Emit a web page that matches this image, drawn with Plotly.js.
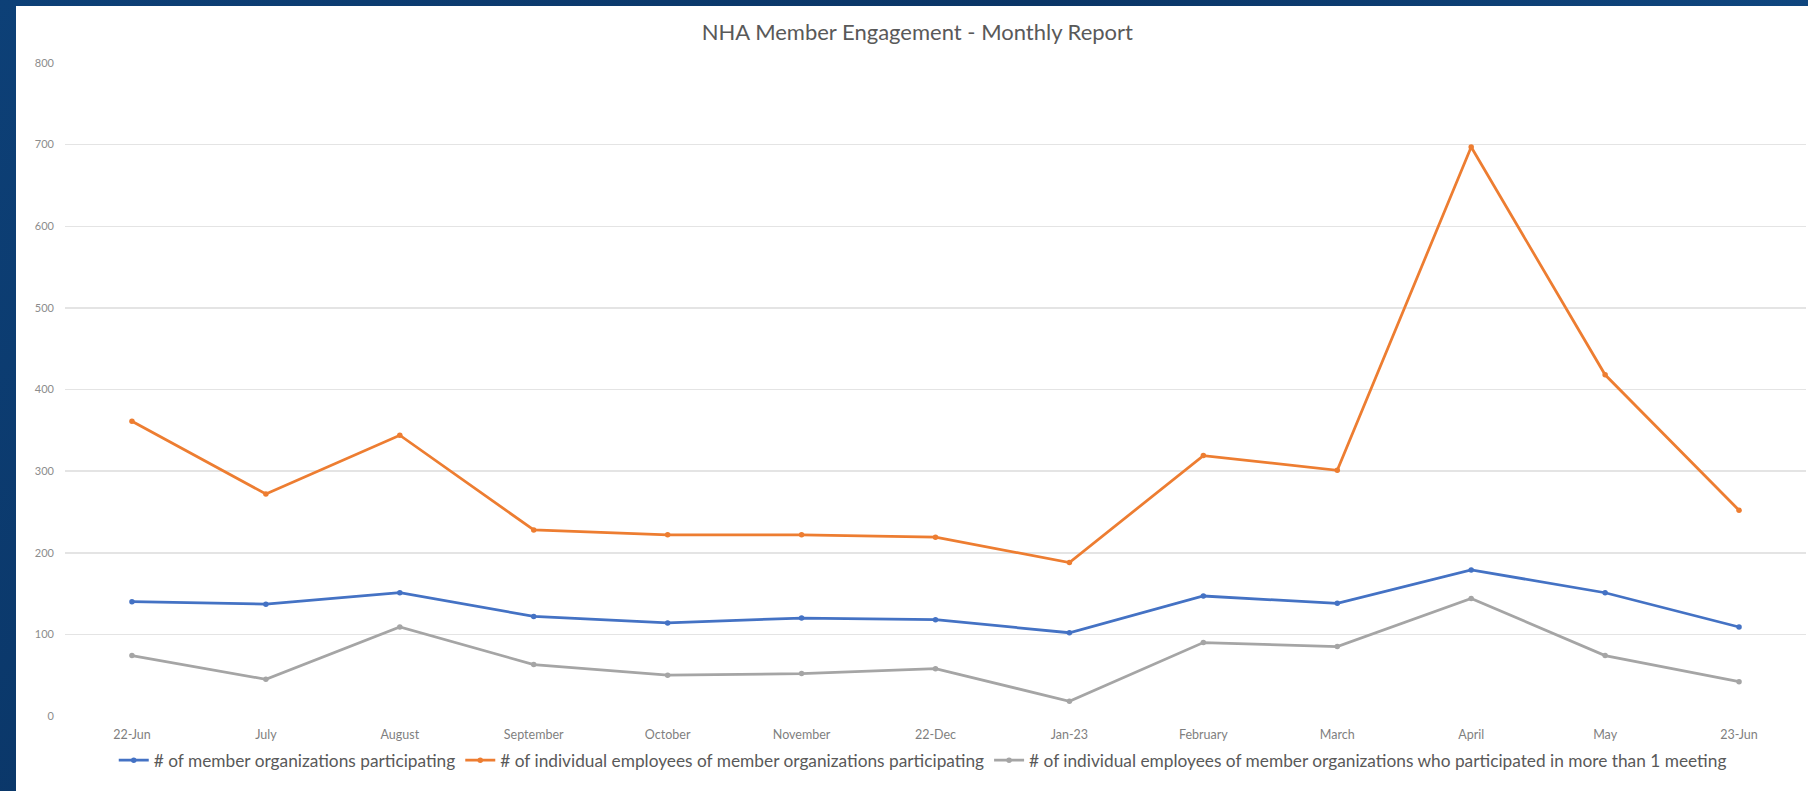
<!DOCTYPE html>
<html>
<head>
<meta charset="utf-8">
<script src="https://cdn.plot.ly/plotly-3.0.1.min.js"></script>
<style>
  html, body { margin: 0; padding: 0; width: 1808px; height: 791px; overflow: hidden;
    background: linear-gradient(135deg, #0d4077 0%, #0a3566 40%, #0f467f 70%, #0a3462 100%); }
  #chart { position: absolute; left: 16px; top: 6px; width: 1792px; height: 785px; }
</style>
</head>
<body>
<div id="chart"></div>
<script>
const months = ["22-Jun", "July", "August", "September", "October", "November", "22-Dec",
                "Jan-23", "February", "March", "April", "May", "23-Jun"];
const memberOrgs = [140, 137, 151, 122, 114, 120, 118, 102, 147, 138, 179, 151, 109];
const employees = [361, 272, 344, 228, 222, 222, 219, 188, 319, 301, 697, 418, 252];
const repeatEmployees = [74, 45, 109, 63, 50, 52, 58, 18, 90, 85, 144, 74, 42];
const seriesNames = [
  "# of member organizations participating",
  "# of individual employees of member organizations participating",
  "# of individual employees of member organizations who participated in more than 1 meeting"
];
const yTicks = [0, 100, 200, 300, 400, 500, 600, 700, 800];

const FONT = "Lato, 'Open Sans', sans-serif";
function mk(y, name, color) {
  return {
    x: months, y: y, name: name, type: "scatter", mode: "lines+markers",
    line: { color: color, width: 2.75 },
    marker: { color: color, size: 5.5, symbol: "circle" }
  };
}
const data = [
  mk(memberOrgs, seriesNames[0], "#4472C4"),
  mk(employees, seriesNames[1], "#ED7D31"),
  mk(repeatEmployees, seriesNames[2], "#A5A5A5")
];
const layout = {
  width: 1792, height: 785,
  margin: { l: 49, r: 2, t: 57, b: 75 },
  paper_bgcolor: "#ffffff", plot_bgcolor: "#ffffff",
  font: { family: FONT, color: "#7f7f7f" },
  title: { text: "NHA Member Engagement - Monthly Report", x: 0.503, xanchor: "center",
           y: 0.967, yanchor: "middle", font: { family: FONT, size: 22, color: "#595959" } },
  xaxis: { type: "category", range: [-0.5, 12.5], showgrid: false, zeroline: false,
           showline: false, ticks: "", ticklabelstandoff: 9,
           tickfont: { size: 12.5, color: "#7f7f7f", family: FONT } },
  yaxis: { range: [0, 800], tickvals: yTicks, showgrid: true, gridcolor: "#e4e4e4", gridwidth: 1.5,
           zeroline: false, showline: false, ticks: "", ticklabelstandoff: 10,
           tickfont: { size: 11, color: "#8c8c8c", family: FONT } },
  showlegend: true,
  legend: { orientation: "h", xref: "container", yref: "container", x: 0.506, xanchor: "center",
            y: 0.039, yanchor: "middle", font: { size: 17.3, color: "#595959", family: FONT },
            itemwidth: 30, tracegroupgap: 0 },
  hovermode: false
};
Plotly.newPlot("chart", data, layout, { displayModeBar: false, staticPlot: true });
</script>
</body>
</html>
